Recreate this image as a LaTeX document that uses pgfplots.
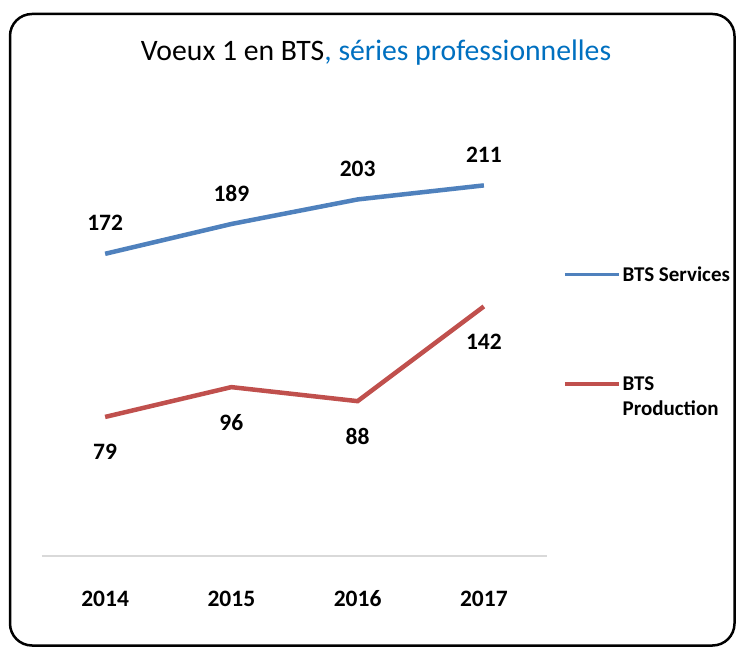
\documentclass[border=0pt]{standalone}
\usepackage{pgfplots}
\pgfplotsset{compat=1.18}
\usepackage{fontspec}
\setmainfont{Carlito}
\definecolor{sblue}{HTML}{4F81BD}
\definecolor{sred}{HTML}{C0504D}
\definecolor{tblue}{HTML}{0070C0}
\pgfplotsset{redlegend/.style={legend image code/.code={\draw[##1, line width=3.5pt] (0pt,12.5pt) -- (54pt,12.5pt);}}}
\begin{document}
\begin{tikzpicture}[x=1pt,y=1pt]
\path (0,0) rectangle (736,648);
\draw[line width=2.5pt, rounded corners=22pt] (10,2.5) rectangle (734.5,634);
\node[anchor=center] at (376,595) {\fontsize{29.7}{34}\selectfont Voeux 1 en BTS\textcolor{tblue}{, séries professionnelles}};
\begin{axis}[
  at={(42pt,92.5pt)}, anchor=south west,
  scale only axis, width=505pt, height=438.5pt,
  xmin=-0.5, xmax=3.5, ymin=0, ymax=250,
  axis y line=none,
  axis x line*=bottom,
  x axis line style={draw=black!15, line width=2pt},
  xtick={0,1,2,3}, xticklabels={2014,2015,2016,2017},
  major tick length=0pt,
  xticklabel style={anchor=base, yshift=-51pt, font=\fontsize{23.5}{28}\selectfont\bfseries},
  clip=false,
  nodes near coords,
  /pgf/number format/assume math mode=true,
  every node near coord/.append style={anchor=center, font=\fontsize{23.5}{28}\selectfont\bfseries, text=black},
  legend style={draw=none, fill=none, inner sep=0pt, at={(1.0317,0.6646)}, anchor=north west, font=\fontsize{21}{25}\selectfont\bfseries, cells={align=left, anchor=west}, row sep=90pt},
  legend image code/.code={\draw[#1, line width=3.5pt] (0pt,0pt) -- (54pt,0pt);},
]
\addplot[sblue, line width=4.5pt, every node near coord/.append style={yshift=31pt}] coordinates {(0,172) (1,189) (2,203) (3,211)};
\addlegendentry{BTS Services}
\addplot[sred, line width=4.5pt, every node near coord/.append style={yshift=-35pt}, redlegend] coordinates {(0,79) (1,96) (2,88) (3,142)};
\addlegendentry{BTS\\Production}
\end{axis}
\end{tikzpicture}
\end{document}
